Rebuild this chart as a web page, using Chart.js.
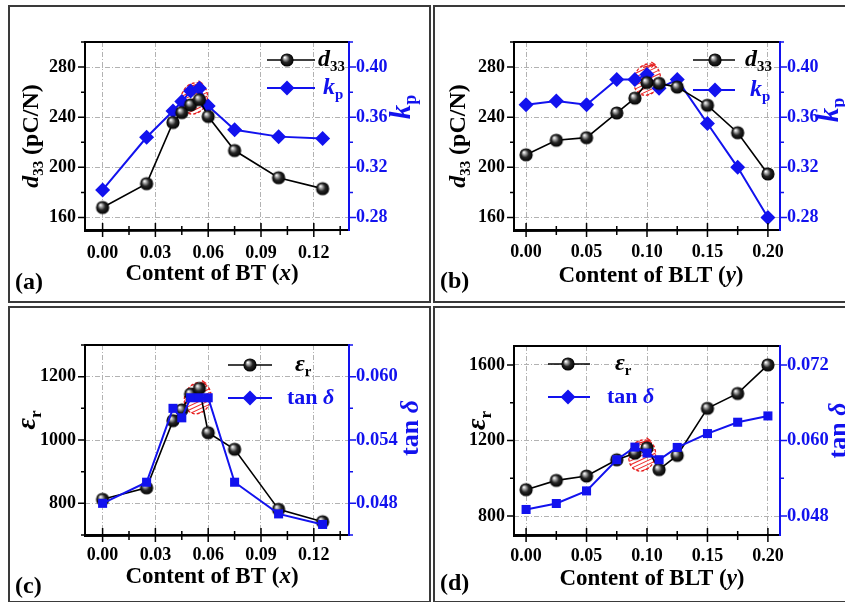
<!DOCTYPE html>
<html>
<head>
<meta charset="utf-8">
<script src="https://cdn.jsdelivr.net/npm/chart.js@4.4.1/dist/chart.umd.min.js"></script>
<style>
  body { margin: 0; background: #fff; width: 845px; height: 602px; overflow: hidden; position: relative; }
  .panel { position: absolute; border: 2px solid #3a3a3a; box-sizing: border-box; overflow: hidden; background: #fff; }
  .panel canvas { position: absolute; left: 0; top: 0; }
</style>
</head>
<body>
<div class="panel" style="left:8px;top:5px;width:423px;height:298px"><canvas id="ca"></canvas></div>
<div class="panel" style="left:433px;top:5px;width:423px;height:298px"><canvas id="cb"></canvas></div>
<div class="panel" style="left:8px;top:306px;width:423px;height:297px"><canvas id="cc"></canvas></div>
<div class="panel" style="left:433px;top:306px;width:423px;height:297px"><canvas id="cd"></canvas></div>
<script>
// ---- data ----
const xBT = [0, 0.025, 0.04, 0.045, 0.05, 0.055, 0.06, 0.075, 0.1, 0.125];
const xBLT = [0, 0.025, 0.05, 0.075, 0.09, 0.1, 0.11, 0.125, 0.15, 0.175, 0.2];

const d33A = [168, 187, 235.8, 243.7, 249.8, 254, 240.6, 213.4, 191.7, 183];
const kpA = [0.302, 0.344, 0.365, 0.3725, 0.381, 0.383, 0.369, 0.350, 0.3445, 0.343];

const d33B = [210, 221.6, 223.7, 243.4, 255.2, 267.6, 267, 264, 249.5, 227.6, 194.7];
const kpB = [0.370, 0.373, 0.370, 0.390, 0.390, 0.394, 0.383, 0.390, 0.355, 0.320, 0.280];

const epsC = [812.6, 849, 1061, 1095, 1145, 1163, 1023, 970.6, 781, 742];
const tanC = [0.0480, 0.0500, 0.0570, 0.0561, 0.0580, 0.0580, 0.0580, 0.0500, 0.0470, 0.0460];

const epsD = [940, 989, 1012, 1098, 1133, 1160, 1046, 1121, 1370, 1449, 1600];
const tanD = [0.04905, 0.0500, 0.0520, 0.05695, 0.05895, 0.0580, 0.05695, 0.0589, 0.0611, 0.0629, 0.0639];

// tick labels
const xTicksBT = [0, 0.03, 0.06, 0.09, 0.12];
const xTicksBLT = [0, 0.05, 0.10, 0.15, 0.20];
const d33Ticks = [160, 200, 240, 280];
const kpTicks = [0.28, 0.32, 0.36, 0.40];
const epsTicksC = [800, 1000, 1200];
const tanTicksC = [0.048, 0.054, 0.060];
const epsTicksD = [800, 1200, 1600];
const tanTicksD = [0.048, 0.060, 0.072];

// red hatched marks (data coords, left axis)
const markA = [0.052, 255];
const markB = [0.100, 270];
const markC = [0.054, 1132];
const markD = [0.096, 1121];

const BLUE = '#1212ee';
const SERIF = '"Liberation Serif", "Times New Roman", serif';

function makeSphere(r) {
    const c = document.createElement('canvas');
    const s = Math.ceil(r * 2 + 2);
    c.width = s; c.height = s;
    const g = c.getContext('2d');
    const m = s / 2;
    const grad = g.createRadialGradient(m - r * 0.35, m - r * 0.4, r * 0.05, m, m, r);
    grad.addColorStop(0, '#ffffff');
    grad.addColorStop(0.22, '#a8a8a8');
    grad.addColorStop(0.55, '#262626');
    grad.addColorStop(1, '#000000');
    g.fillStyle = grad;
    g.beginPath();
    g.arc(m, m, r, 0, Math.PI * 2);
    g.fill();
    return c;
}
const sphere = makeSphere(6.6);

function partFont(p, size) {
    const s = p.sub ? size * 0.62 : size;
    return (p.i ? 'italic ' : '') + 'bold ' + s.toFixed(1) + 'px ' + SERIF;
}
function richWidth(ctx, parts, size) {
    let w = 0;
    parts.forEach(p => { ctx.font = partFont(p, size); w += ctx.measureText(p.t).width; });
    return w;
}
function drawRich(ctx, parts, x, y, size, color, align) {
    ctx.save();
    ctx.fillStyle = color;
    ctx.textBaseline = 'middle';
    ctx.textAlign = 'left';
    let cx = align === 'center' ? x - richWidth(ctx, parts, size) / 2 : x;
    parts.forEach(p => {
        ctx.font = partFont(p, size);
        ctx.fillText(p.t, cx, y + (p.sub ? size * 0.3 : 0));
        cx += ctx.measureText(p.t).width;
    });
    ctx.restore();
}
function drawRichRot(ctx, parts, x, y, size, color) {
    ctx.save();
    ctx.translate(x, y);
    ctx.rotate(-Math.PI / 2);
    drawRich(ctx, parts, 0, 0, size, color, 'center');
    ctx.restore();
}

function minorOf(ticks, min, max) {
    const out = [];
    const step = ticks[1] - ticks[0];
    const first = ticks[0] - step / 2;
    for (let v = first; v <= max + 1e-9; v += step) {
        if (v >= min - 1e-9) out.push(v);
    }
    return out;
}

function drawMarker(ctx, kind, x, y) {
    if (kind === 'sphere') {
        ctx.drawImage(sphere, x - sphere.width / 2, y - sphere.height / 2);
    } else {
        const r = 7.5;
        ctx.fillStyle = BLUE;
        ctx.beginPath();
        ctx.moveTo(x - r, y); ctx.lineTo(x, y - r); ctx.lineTo(x + r, y); ctx.lineTo(x, y + r);
        ctx.closePath();
        ctx.fill();
    }
}

function decoPlugin(P) {
    return {
        id: 'deco',
        beforeDatasetsDraw(chart) {
            const ctx = chart.ctx;
            const cx = chart.scales.x.getPixelForValue(P.mark[0]);
            const cy = chart.scales.y.getPixelForValue(P.mark[1]);
            ctx.save();
            ctx.translate(cx, cy);
            ctx.rotate(0.35);
            ctx.beginPath();
            ctx.ellipse(0, 0, 13, 16, 0, 0, Math.PI * 2);
            ctx.save();
            ctx.clip();
            ctx.strokeStyle = '#ee2a2a';
            ctx.lineWidth = 1;
            for (let k = -30; k <= 30; k += 5) {
                ctx.beginPath();
                ctx.moveTo(k - 20, 20); ctx.lineTo(k + 20, -20);
                ctx.stroke();
            }
            ctx.restore();
            ctx.setLineDash([3, 2]);
            ctx.strokeStyle = '#e51f1f';
            ctx.lineWidth = 1.3;
            ctx.beginPath();
            ctx.ellipse(0, 0, 13, 16, 0, 0, Math.PI * 2);
            ctx.stroke();
            ctx.setLineDash([]);
            ctx.beginPath();
            ctx.moveTo(-8, -10); ctx.lineTo(2, -17); ctx.lineTo(-2, -18);
            ctx.moveTo(2, -17); ctx.lineTo(0, -13);
            ctx.stroke();
            ctx.restore();
        },
        afterDraw(chart) {
            const ctx = chart.ctx;
            const { left, right, top, bottom } = chart.chartArea;
            const sx = chart.scales.x, sy = chart.scales.y, sy2 = chart.scales.y2;
            ctx.save();
            // frame
            ctx.lineWidth = 2;
            ctx.strokeStyle = '#000';
            ctx.beginPath();
            ctx.moveTo(right, top); ctx.lineTo(left, top); ctx.lineTo(left, bottom + 1); ctx.lineTo(right, bottom);
            ctx.moveTo(left - 1, bottom); ctx.lineTo(right, bottom);
            ctx.stroke();
            ctx.strokeStyle = BLUE;
            ctx.beginPath();
            ctx.moveTo(right, top - 1); ctx.lineTo(right, bottom + 1);
            ctx.stroke();
            // x ticks (crossing)
            ctx.strokeStyle = '#000';
            ctx.lineWidth = 1.5;
            ctx.beginPath();
            P.xTicks.forEach(v => { const p = sx.getPixelForValue(v); ctx.moveTo(p, bottom - 7); ctx.lineTo(p, bottom + 7); });
            minorOf(P.xTicks, sx.min, sx.max).forEach(v => { const p = sx.getPixelForValue(v); ctx.moveTo(p, bottom - 4); ctx.lineTo(p, bottom + 5); });
            // left ticks
            P.yTicks.forEach(v => { const p = sy.getPixelForValue(v); ctx.moveTo(left - 7, p); ctx.lineTo(left, p); });
            minorOf(P.yTicks, sy.min, sy.max).forEach(v => { const p = sy.getPixelForValue(v); ctx.moveTo(left - 4, p); ctx.lineTo(left, p); });
            ctx.stroke();
            // right ticks
            ctx.strokeStyle = BLUE;
            ctx.beginPath();
            P.y2Ticks.forEach(v => { const p = sy2.getPixelForValue(v); ctx.moveTo(right, p); ctx.lineTo(right + 7, p); });
            minorOf(P.y2Ticks, sy2.min, sy2.max).forEach(v => { const p = sy2.getPixelForValue(v); ctx.moveTo(right, p); ctx.lineTo(right + 4, p); });
            ctx.stroke();
            ctx.restore();

            // axis titles
            const T = P.titles;
            drawRich(ctx, T.x, (left + right) / 2 + T.xPos[0], bottom + T.xPos[1], T.xSize, '#000', 'center');
            drawRichRot(ctx, T.y, left + T.yPos[0], (top + bottom) / 2 + T.yPos[1], T.ySize, '#000');
            drawRichRot(ctx, T.y2, right + T.y2Pos[0], (top + bottom) / 2 + T.y2Pos[1], T.y2Size, BLUE);

            // legend
            const L = P.legend;
            L.rows.forEach(r => {
                const y = top + r.dy;
                ctx.save();
                ctx.strokeStyle = r.color;
                ctx.lineWidth = r.kind === 'sphere' ? 1.6 : 2;
                ctx.beginPath();
                ctx.moveTo(left + L.x0, y); ctx.lineTo(left + L.x1, y);
                ctx.stroke();
                drawMarker(ctx, r.kind, left + L.xm, y);
                ctx.restore();
                drawRich(ctx, r.text, left + r.tx, y, r.size, r.color, 'left');
            });

            // panel label
            ctx.save();
            ctx.font = 'bold 24px ' + SERIF;
            ctx.fillStyle = '#000';
            ctx.textBaseline = 'middle';
            ctx.fillText(P.label, P.labelPos[0], P.labelPos[1]);
            ctx.restore();
        }
    };
}

function axis(pos, min, max, ticks, fmt, color, size, fit) {
    return {
        type: 'linear', position: pos, min: min, max: max,
        afterBuildTicks: s => { s.ticks = ticks.map(v => ({ value: v })); },
        afterFit: fit,
        ticks: {
            font: { family: SERIF, size: size, weight: 'bold' },
            color: color, autoSkip: false, maxRotation: 0,
            callback: fmt
        },
        grid: { color: '#b2b2b2', lineWidth: 1, drawTicks: false },
        border: { display: false, dash: [5, 2, 1, 2] }
    };
}

function makeChart(id, P) {
    const B = P.box;
    const x = axis('bottom', P.xMin, P.xMax, P.xTicks, v => v.toFixed(2), '#000', 18, s => { s.height = B.bottom; });
    x.ticks.padding = B.xPad;
    const y = axis('left', P.yMin, P.yMax, P.yTicks, v => String(v), '#000', 18, s => { s.width = B.left; });
    y.ticks.padding = 9;
    const y2 = axis('right', P.y2Min, P.y2Max, P.y2Ticks, P.y2Fmt, BLUE, P.y2FontSize, s => { s.width = B.right; });
    y2.ticks.padding = 7;
    y2.grid = { display: false, drawTicks: false };
    return new Chart(document.getElementById(id), {
        type: 'line',
        data: { datasets: P.datasets },
        options: {
            responsive: true,
            maintainAspectRatio: false,
            animation: false,
            layout: { padding: { top: B.top, left: 0, right: 0, bottom: 0 } },
            plugins: { legend: { display: false }, tooltip: { enabled: false } },
            scales: { x: x, y: y, y2: y2 }
        },
        plugins: [decoPlugin(P)]
    });
}

function blackSet(xs, ys, label) {
    return {
        label: label, yAxisID: 'y',
        data: xs.map((v, i) => ({ x: v, y: ys[i] })),
        borderColor: '#000', backgroundColor: '#000', borderWidth: 1.6,
        pointStyle: sphere, pointRadius: 7, tension: 0
    };
}
function blueSet(xs, ys, label, style, r) {
    return {
        label: label, yAxisID: 'y2',
        data: xs.map((v, i) => ({ x: v, y: ys[i] })),
        borderColor: BLUE, backgroundColor: BLUE, borderWidth: 2,
        pointStyle: style, pointRadius: r, pointBorderWidth: 0, tension: 0
    };
}

const tD33 = [{ t: 'd', i: true }, { t: '33', sub: true }];
const tKp = [{ t: 'k', i: true }, { t: 'p', sub: true }];
const tEps = [{ t: 'ε', i: true }, { t: 'r', sub: true }];
const tTan = [{ t: 'tan ' }, { t: 'δ', i: true }];

makeChart('ca', {
    xMin: -0.01, xMax: 0.14, xTicks: xTicksBT,
    yMin: 150, yMax: 300, yTicks: d33Ticks,
    y2Min: 0.27, y2Max: 0.42, y2Ticks: kpTicks, y2Fmt: v => v.toFixed(2), y2FontSize: 18,
    box: { left: 75, right: 80, top: 35, bottom: 71, xPad: 13 },
    datasets: [blackSet(xBT, d33A, 'd33'), blueSet(xBT, kpA, 'kp', 'rectRot', 7.5)],
    mark: markA,
    titles: {
        x: [{ t: 'Content of BT (' }, { t: 'x', i: true }, { t: ')' }], xPos: [-5, 44], xSize: 23,
        y: tD33.concat([{ t: ' (pC/N)' }]), yPos: [-53, 0], ySize: 24,
        y2: tKp, y2Pos: [54, -29], y2Size: 29
    },
    legend: { x0: 182, x1: 230, xm: 202, rows: [
        { kind: 'sphere', color: '#000', dy: 18, tx: 233, text: tD33, size: 24 },
        { kind: 'diamond', color: BLUE, dy: 46, tx: 238, text: tKp, size: 24 }
    ] },
    label: '(a)', labelPos: [5, 276]
});

makeChart('cb', {
    xMin: -0.01, xMax: 0.21, xTicks: xTicksBLT,
    yMin: 150, yMax: 300, yTicks: d33Ticks,
    y2Min: 0.27, y2Max: 0.42, y2Ticks: kpTicks, y2Fmt: v => v.toFixed(2), y2FontSize: 18,
    box: { left: 79, right: 74, top: 35, bottom: 71, xPad: 12 },
    datasets: [blackSet(xBLT, d33B, 'd33'), blueSet(xBLT, kpB, 'kp', 'rectRot', 7.5)],
    mark: markB,
    titles: {
        x: [{ t: 'Content of BLT (' }, { t: 'y', i: true }, { t: ')' }], xPos: [4, 46], xSize: 23,
        y: tD33.concat([{ t: ' (pC/N)' }]), yPos: [-55, 0], ySize: 24,
        y2: tKp, y2Pos: [51, -26], y2Size: 29
    },
    legend: { x0: 179, x1: 221, xm: 201, rows: [
        { kind: 'sphere', color: '#000', dy: 18, tx: 231, text: tD33, size: 24 },
        { kind: 'diamond', color: BLUE, dy: 48, tx: 236, text: tKp, size: 24 }
    ] },
    label: '(b)', labelPos: [5, 275]
});

makeChart('cc', {
    xMin: -0.01, xMax: 0.14, xTicks: xTicksBT,
    yMin: 700, yMax: 1300, yTicks: epsTicksC,
    y2Min: 0.045, y2Max: 0.063, y2Ticks: tanTicksC, y2Fmt: v => v.toFixed(3), y2FontSize: 18.5,
    box: { left: 75, right: 80, top: 37, bottom: 66, xPad: 10 },
    datasets: [blueSet(xBT, tanC, 'tan d', 'rect', 6.4), blackSet(xBT, epsC, 'eps')],
    mark: markC,
    titles: {
        x: [{ t: 'Content of BT (' }, { t: 'x', i: true }, { t: ')' }], xPos: [-5, 42], xSize: 23,
        y: tEps, yPos: [-57, -20], ySize: 28,
        y2: tTan, y2Pos: [62, -12], y2Size: 26
    },
    legend: { x0: 143, x1: 187, xm: 165, rows: [
        { kind: 'sphere', color: '#000', dy: 20, tx: 210, text: tEps, size: 24 },
        { kind: 'diamond', color: BLUE, dy: 53, tx: 202, text: tTan, size: 22 }
    ] },
    label: '(c)', labelPos: [5, 279]
});

makeChart('cd', {
    xMin: -0.01, xMax: 0.21, xTicks: xTicksBLT,
    yMin: 700, yMax: 1700, yTicks: epsTicksD,
    y2Min: 0.045, y2Max: 0.075, y2Ticks: tanTicksD, y2Fmt: v => v.toFixed(3), y2FontSize: 18.5,
    box: { left: 79, right: 74, top: 38, bottom: 66, xPad: 11 },
    datasets: [blueSet(xBLT, tanD, 'tan d', 'rect', 6.4), blackSet(xBLT, epsD, 'eps')],
    mark: markD,
    titles: {
        x: [{ t: 'Content of BLT (' }, { t: 'y', i: true }, { t: ')' }], xPos: [5, 44], xSize: 23,
        y: tEps, yPos: [-36, -20], ySize: 28,
        y2: tTan, y2Pos: [59, -10], y2Size: 26
    },
    legend: { x0: 34, x1: 76, xm: 54, rows: [
        { kind: 'sphere', color: '#000', dy: 18, tx: 101, text: tEps, size: 24 },
        { kind: 'diamond', color: BLUE, dy: 51, tx: 93, text: tTan, size: 22 }
    ] },
    label: '(d)', labelPos: [5, 276]
});
</script>
</body>
</html>
